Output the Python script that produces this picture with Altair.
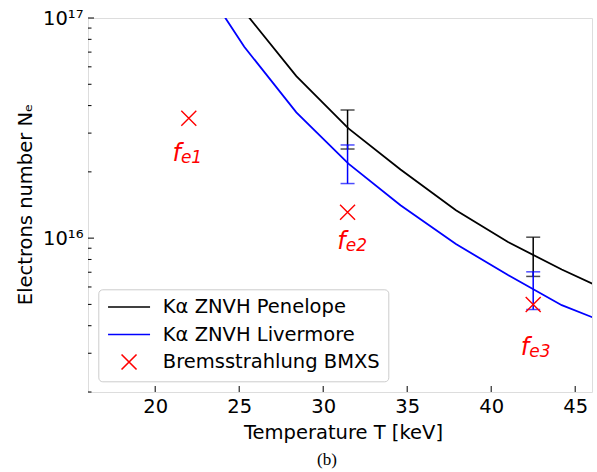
import altair as alt
import pandas as pd

# ---------------- data ----------------
T_curve = [22.2, 25.3, 28.4, 31.5, 34.6, 37.9, 41.0, 44.2, 47.3]
N_penelope = [1.9e17, 1.07e17, 5.45e16, 3.15e16, 2.05e16, 1.34e16, 9.6e15, 7.2e15, 5.6e15]
N_livermore = [1.7e17, 7.4e16, 3.73e16, 2.18e16, 1.41e16, 9.4e15, 6.8e15, 4.96e15, 4.0e15]

err_T = [31.45, 42.5]
pen_lo = [2.54e16, 6.7e15]
pen_hi = [3.82e16, 1.01e16]
liv_lo = [1.77e16, 4.74e15]
liv_hi = [2.65e16, 7.03e15]

bmxs_T = [22.0, 31.45, 42.5]
bmxs_N = [3.5e16, 1.31e16, 5.0e15]

# annotation anchors (data coordinates) for the f_e labels
lab_T = [21.53, 31.34, 42.26]
lab_N = [2.24e16, 8.96e15, 2.94e15]
lab_sub = ["e1", "e2", "e3"]

series_names = ["K\u03b1 ZNVH Penelope", "K\u03b1 ZNVH Livermore", "Bremsstrahlung BMXS"]

x_ticks = [20, 25, 30, 35, 40, 45]
y_major = [1e16, 1e17]
y_minor = [2e15, 3e15, 4e15, 5e15, 6e15, 7e15, 8e15, 9e15,
           2e16, 3e16, 4e16, 5e16, 6e16, 7e16, 8e16, 9e16]

# ---------------- tables ----------------
pen_df = pd.DataFrame({"T": T_curve, "N": N_penelope})
liv_df = pd.DataFrame({"T": T_curve, "N": N_livermore})
pen_err = pd.DataFrame({"T": err_T, "lo": pen_lo, "hi": pen_hi})
liv_err = pd.DataFrame({"T": err_T, "lo": liv_lo, "hi": liv_hi})
pen_caps = pd.DataFrame({"T": err_T * 2, "N": pen_lo + pen_hi})
liv_caps = pd.DataFrame({"T": err_T * 2, "N": liv_lo + liv_hi})
bm_df = pd.DataFrame({"T": bmxs_T, "N": bmxs_N, "series": series_names[2]})
lab_df = pd.DataFrame({"T": lab_T, "N": lab_N, "sub": lab_sub})
xt_df = pd.DataFrame({"T": x_ticks})
ymaj_df = pd.DataFrame({"N": y_major})
ymin_df = pd.DataFrame({"N": y_minor})

FONT = "DejaVu Sans"
W, H = 504, 374

xs = alt.Scale(domain=[16, 46], nice=False, zero=False)
ys = alt.Scale(type="log", domain=[2e15, 1e17], nice=False)

xaxis = alt.Axis(
    title="Temperature T [keV]", values=x_ticks, ticks=False, tickSize=0, domain=False,
    grid=False, labelFont=FONT, labelFontSize=19.5, labelColor="black",
    labelBaseline="alphabetic", labelPadding=20, labelFlush=False,
    titleFont=FONT, titleFontSize=19.5, titleFontWeight="normal", titleColor="black",
    titleBaseline="alphabetic", titleX=W / 2 + 3, titleY=46.8, titleAnchor="middle",
)
yaxis = alt.Axis(
    title="Electrons number N\u2091", values=y_major, ticks=False, tickSize=0, domain=False,
    grid=False, labelFont=FONT, labelFontSize=19.5, labelColor="black",
    labelExpr="datum.value > 5e16 ? '10\u00b9\u2077' : '10\u00b9\u2076'",
    labelPadding=5, labelBaseline="middle", labelFlush=False,
    titleFont=FONT, titleFontSize=19.5, titleFontWeight="normal", titleColor="black",
    titleAngle=270, titleBaseline="alphabetic", titleX=-56.3, titleY=186, titleAnchor="middle",
)

X = alt.X("T:Q", scale=xs, axis=xaxis)
Y = alt.Y("N:Q", scale=ys, axis=yaxis)

pen_line = alt.Chart(pen_df).mark_line(color="black", strokeWidth=1.8, clip=True).encode(x=X, y=Y)
liv_line = alt.Chart(liv_df).mark_line(color="#0000ff", strokeWidth=1.8, clip=True).encode(x=X, y=Y)

pen_bar = alt.Chart(pen_err).mark_rule(color="black", strokeWidth=1.5).encode(
    x=X, y=alt.Y("lo:Q", scale=ys, axis=yaxis), y2="hi:Q")
liv_bar = alt.Chart(liv_err).mark_rule(color="#0000ff", strokeWidth=1.5).encode(
    x=X, y=alt.Y("lo:Q", scale=ys, axis=yaxis), y2="hi:Q")
pen_cap = alt.Chart(pen_caps).mark_tick(color="black", orient="horizontal", size=14, thickness=1.5).encode(x=X, y=Y)
liv_cap = alt.Chart(liv_caps).mark_tick(color="#0000ff", orient="horizontal", size=14, thickness=1.5).encode(x=X, y=Y)

path_line = "M-2.8,0L2.8,0"
path_x = "M-1,-1L1,1M-1,1L1,-1"
leg = alt.Legend(
    title=None, orient="none", legendX=10.3, legendY=271.3,
    labelFont=FONT, labelFontSize=19.5, labelColor="black", labelLimit=400,
    symbolSize=225, symbolStrokeWidth=1.6, symbolOffset=13, labelOffset=24,
    padding=8, rowPadding=6.5, fillColor="#ffffff", strokeColor="#cccccc", cornerRadius=4,
)
bm_pts = alt.Chart(bm_df).mark_point(filled=False, size=225, strokeWidth=1.4, opacity=1).encode(
    x=X, y=Y,
    color=alt.Color("series:N", scale=alt.Scale(domain=series_names, range=["black", "#0000ff", "#ff0000"]), legend=leg),
    shape=alt.Shape("series:N", scale=alt.Scale(domain=series_names, range=[path_line, path_line, path_x]), legend=leg),
)

f_txt = alt.Chart(lab_df).mark_text(
    text="f", align="right", baseline="alphabetic", font=FONT, fontSize=24,
    fontStyle="italic", color="#ff0000").encode(x=X, y=Y)
sub_txt = alt.Chart(lab_df).mark_text(
    align="left", baseline="alphabetic", dy=2, font=FONT, fontSize=17,
    fontStyle="italic", color="#ff0000").encode(x=X, y=Y, text="sub:N")

xt = alt.Chart(xt_df).mark_rule(color="black", strokeWidth=1).encode(
    x=X, y=alt.value(H), y2=alt.value(H - 6))
ymaj = alt.Chart(ymaj_df).mark_rule(color="black", strokeWidth=1).encode(
    y=Y, x=alt.value(0), x2=alt.value(6))
ymin = alt.Chart(ymin_df).mark_rule(color="black", strokeWidth=1).encode(
    y=Y, x=alt.value(0), x2=alt.value(3.5))

chart = alt.layer(
    pen_line, pen_bar, pen_cap, liv_line, liv_bar, liv_cap, bm_pts, f_txt, sub_txt, xt, ymaj, ymin
).properties(
    width=W, height=H,
    title=alt.TitleParams(text="(b)", orient="bottom", font="Liberation Serif", fontSize=17,
                          fontWeight="normal", color="black", anchor="middle", dx=-13, offset=10),
    autosize=alt.AutoSizeParams(type="none"),
    padding={"left": 88, "top": 18, "right": 5, "bottom": 80},
).configure_view(stroke="black", strokeWidth=1.1).configure(background="white")

chart.save("out.html", embed_options={"renderer": "svg", "actions": False})
